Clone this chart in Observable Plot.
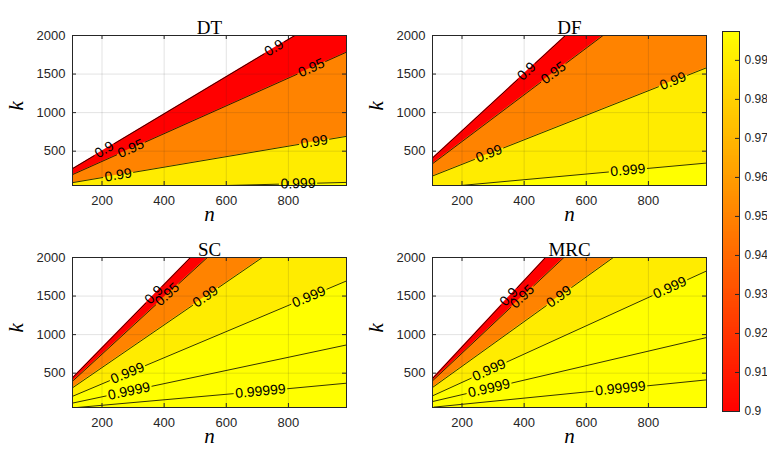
<!DOCTYPE html>
<html><head><meta charset="utf-8">
<script src="https://cdn.jsdelivr.net/npm/d3@7"></script>
<script src="https://cdn.jsdelivr.net/npm/@observablehq/plot@0.6"></script>
<style>
body{margin:0;background:#fff;}
#root{position:relative;width:767px;height:450px;overflow:hidden;background:#fff;}
#root > div{position:absolute;}
</style></head><body><div id="root"></div>
<script>
// ---- axes ----
const xTicks = [200, 400, 600, 800];
const yTicks = [500, 1000, 1500, 2000];
const nDomain = [105, 987];
const kDomain = [55, 2000];
const panelNames = ["DT", "DF", "SC", "MRC"];

// ---- contour levels ----
const levels = [0.9, 0.95, 0.99, 0.999, 0.9999, 0.99999];
const levelText = ["0.9", "0.95", "0.99", "0.999", "0.9999", "0.99999"];

// ---- colorbar ----
const cLimits = [0.9, 0.9974];
const cbTicks = [0.9, 0.91, 0.92, 0.93, 0.94, 0.95, 0.96, 0.97, 0.98, 0.99];
const cbTickText = ["0.9", "0.91", "0.92", "0.93", "0.94", "0.95", "0.96", "0.97", "0.98", "0.99"];

// ---- contour vertices: [level, [[n, k], ...]] ----
const contoursDT = [
  [0.9,   [[105, 273], [821, 2000]]],
  [0.95,  [[105, 196], [987, 1784]]],
  [0.99,  [[105, 92],  [987, 692]]],
  [0.999, [[600, 55],  [987, 95]]]
];
const contoursDF = [
  [0.9,   [[105, 411], [533, 2000]]],
  [0.95,  [[105, 337], [654, 2000]]],
  [0.99,  [[105, 178], [987, 1581]]],
  [0.999, [[196, 55],  [987, 346]]]
];
const contoursSC = [
  [0.9,     [[105, 440], [485, 2000]]],
  [0.95,    [[105, 395], [539, 2000]]],
  [0.99,    [[105, 310], [716, 2000]]],
  [0.999,   [[105, 200], [987, 1696]]],
  [0.9999,  [[105, 112], [987, 866]]],
  [0.99999, [[120, 55],  [700, 262], [987, 370]]]
];
const contoursMRC = [
  [0.9,     [[105, 430], [469, 2000]]],
  [0.95,    [[105, 400], [528, 2000]]],
  [0.99,    [[105, 314], [687, 2000]]],
  [0.999,   [[105, 206], [987, 1825]]],
  [0.9999,  [[105, 132], [987, 962]]],
  [0.99999, [[110, 60],  [710, 301], [987, 413]]]
];

// ---- contour label positions: [level, n] ----
const labelsDT  = [[0.9, 207], [0.95, 293], [0.99, 252], [0.9, 754], [0.95, 874], [0.99, 883], [0.999, 831]];
const labelsDF  = [[0.9, 408], [0.95, 494], [0.99, 287], [0.99, 879], [0.999, 734]];
const labelsSC  = [[0.9, 367], [0.95, 410], [0.99, 533], [0.999, 282], [0.999, 866], [0.9999, 287], [0.99999, 710]];
const labelsMRC = [[0.9, 351], [0.95, 394], [0.99, 512], [0.999, 287], [0.999, 869], [0.9999, 287], [0.99999, 710]];

// ---- layout ----
const W = 360, H = 228, mL = 72, mR = 14, mT = 35, mB = 43;
const sans = "'Liberation Sans', Arial, Helvetica, sans-serif";
const serif = "'Liberation Serif', 'Times New Roman', serif";
const ink = "#262626";
const labelFont = 14;
const colorOpts = {type: "linear", domain: cLimits, range: ["#ff0000", "#ffff00"], interpolate: "rgb", clamp: true};

const sx = d3.scaleLinear(nDomain, [mL, W - mR]);
const sy = d3.scaleLinear(kDomain, [H - mB, mT]);
const textWidth = (t) => [...t].reduce((s, c) => s + (c === "." ? 0.278 : 0.556) * labelFont, 0);

function buildPanel(contours, labels) {
  const areas = [], segs = [], texts = [];
  let segId = 0;
  for (const [level, pts] of contours) {
    const P = pts.map(([n, k]) => ({n, k, px: sx(n), py: sy(k)}));
    const cum = [0];
    for (let i = 1; i < P.length; i++) cum.push(cum[i - 1] + Math.hypot(P[i].px - P[i - 1].px, P[i].py - P[i - 1].py));
    const total = cum[cum.length - 1];
    const A = pts.map(([n, k]) => ({level, n, k}));
    if (pts[pts.length - 1][1] >= kDomain[1]) A.push({level, n: nDomain[1], k: kDomain[1]});
    areas.push(A);
    const at = (s) => {
      let i = 0;
      while (i < P.length - 2 && s > cum[i + 1]) i++;
      const t = (s - cum[i]) / (cum[i + 1] - cum[i]);
      return {n: P[i].n + t * (P[i + 1].n - P[i].n), k: P[i].k + t * (P[i + 1].k - P[i].k)};
    };
    const gaps = [];
    labels.filter((l) => l[0] === level).forEach(([, nc]) => {
      let i = 0;
      while (i < P.length - 2 && nc > P[i + 1].n) i++;
      const t = (nc - P[i].n) / (P[i + 1].n - P[i].n);
      const s = cum[i] + t * (cum[i + 1] - cum[i]);
      const k = P[i].k + t * (P[i + 1].k - P[i].k);
      const angle = Math.atan2(P[i + 1].py - P[i].py, P[i + 1].px - P[i].px) * 180 / Math.PI;
      const txt = levelText[levels.indexOf(level)];
      const half = textWidth(txt) / 2 + 2;
      texts.push({n: nc, k, txt, angle});
      gaps.push([s - half, s + half]);
    });
    gaps.sort((a, b) => a[0] - b[0]);
    let start = 0;
    const pieces = [];
    for (const [a, b] of gaps) { if (a > start) pieces.push([start, a]); start = Math.max(start, b); }
    if (start < total) pieces.push([start, total]);
    for (const [a, b] of pieces) {
      const id = segId++;
      segs.push({id, ...at(a)});
      for (let i = 1; i < P.length - 1; i++) if (cum[i] > a && cum[i] < b) segs.push({id, n: P[i].n, k: P[i].k});
      segs.push({id, ...at(b)});
    }
  }
  return {areas, segs, texts};
}

function panel(title, contours, labels) {
  const {areas, segs, texts} = buildPanel(contours, labels);
  return Plot.plot({
    width: W, height: H, marginLeft: mL, marginRight: mR, marginTop: mT, marginBottom: mB,
    style: {fontFamily: sans, fontSize: "13px", color: ink, background: "transparent", overflow: "visible"},
    x: {domain: nDomain, ticks: xTicks, tickSize: 0, tickPadding: 10, label: null, tickFormat: (d) => String(d)},
    y: {domain: kDomain, ticks: yTicks, tickSize: 0, tickPadding: 7, label: null, tickFormat: (d) => String(d)},
    color: colorOpts,
    marks: [
      ...areas.map((A) => Plot.areaY(A, {x: "n", y1: kDomain[0], y2: "k", fill: "level", clip: true})),
      Plot.ruleX(xTicks, {stroke: ink, strokeOpacity: 0.13}),
      Plot.ruleY(yTicks, {stroke: ink, strokeOpacity: 0.13}),
      Plot.line(segs, {x: "n", y: "k", z: "id", stroke: "#000", strokeWidth: 0.8, clip: true}),
      Plot.frame({stroke: ink, strokeWidth: 1}),
      Plot.ruleX(xTicks, {x: (d) => d, y1: kDomain[0], y2: kDomain[0], insetBottom: 4, stroke: ink}),
      Plot.ruleX(xTicks, {x: (d) => d, y1: kDomain[1], y2: kDomain[1], insetTop: 4, stroke: ink}),
      Plot.ruleY(yTicks, {y: (d) => d, x1: nDomain[0], x2: nDomain[0], insetRight: -4, stroke: ink}),
      Plot.ruleY(yTicks, {y: (d) => d, x1: nDomain[1], x2: nDomain[1], insetLeft: -4, stroke: ink}),
      Plot.text(texts, {x: "n", y: "k", text: "txt", rotate: "angle", fontSize: labelFont, fontFamily: sans, fill: "#000"}),
      Plot.text([title], {text: (d) => d, frameAnchor: "top", dy: -15, fontFamily: serif, fontSize: 19, fill: "#000"}),
      Plot.text(["n"], {text: (d) => d, frameAnchor: "bottom", dy: 35, fontFamily: serif, fontStyle: "italic", fontSize: 21, fill: "#000"}),
      Plot.text(["k"], {text: (d) => d, frameAnchor: "left", dx: -56, rotate: -90, fontFamily: serif, fontStyle: "italic", fontSize: 21, fill: "#000"})
    ]
  });
}

function colorbar() {
  const steps = 200, dv = (cLimits[1] - cLimits[0]) / steps;
  const stops = d3.range(0, steps).map((i) => cLimits[0] + i * dv);
  return Plot.plot({
    width: 67, height: 450, marginLeft: 22, marginRight: 28, marginTop: 31, marginBottom: 39,
    style: {fontFamily: sans, fontSize: "12px", color: ink, background: "transparent", overflow: "visible"},
    x: {domain: [0, 1], axis: null},
    y: {domain: cLimits, ticks: cbTicks, axis: "right", tickSize: 0, tickPadding: 5, label: null,
        tickFormat: (d) => cbTickText[cbTicks.indexOf(d)]},
    color: colorOpts,
    marks: [
      Plot.rect(stops, {x1: 0, x2: 1, y1: (d) => d, y2: (d) => d + dv * 1.02, fill: (d) => d + dv / 2, shapeRendering: "crispEdges"}),
      Plot.frame({stroke: ink}),
      Plot.ruleY(cbTicks, {y: (d) => d, x1: 1, x2: 1, insetLeft: -4, stroke: ink})
    ]
  });
}

const root = document.getElementById("root");
const contourSets = [contoursDT, contoursDF, contoursSC, contoursMRC];
const labelSets = [labelsDT, labelsDF, labelsSC, labelsMRC];
const pos = [[0, 0], [360, 0], [0, 221.5], [360, 221.5]];
panelNames.forEach((name, i) => {
  const d = document.createElement("div");
  d.style.left = pos[i][0] + "px";
  d.style.top = pos[i][1] + "px";
  d.appendChild(panel(name, contourSets[i], labelSets[i]));
  root.appendChild(d);
});
const cb = document.createElement("div");
cb.style.left = "700px";
cb.style.top = "0px";
cb.appendChild(colorbar());
root.appendChild(cb);
</script>
</body></html>
